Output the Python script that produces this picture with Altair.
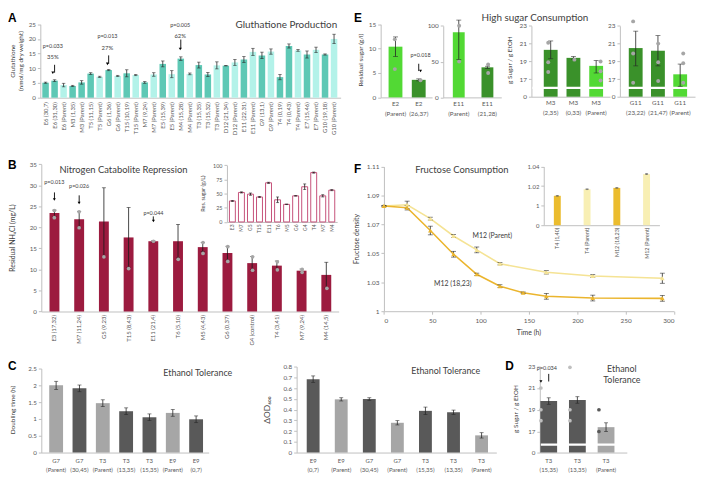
import altair as alt
import pandas as pd

# ---------------- data ----------------
# A: Glutathione production
a_labels = ["E6 (30,7)", "E6 (31,30)", "E6 (Parent)", "M3 (1,35)", "M3 (Parent)", "T5 (11,15)", "T5 (Parent)",
            "G6 (1,36)", "G6 (Parent)", "T15 (10,19)", "T15 (Parent)", "M7 (9,24)", "M7 (Parent)", "E5 (15,39)",
            "E5 (Parent)", "M4 (15,28)", "M4 (Parent)", "T3 (15,35)", "T3 (15,32)", "T3 (Parent)", "D12 (21,34)",
            "D12 (Parent)", "E11 (22,31)", "E11 (Parent)", "G9 (13,1)", "G9 (Parent)", "T4 (0,19)", "T4 (0,43)",
            "T4 (Parent)", "E7 (15,46)", "E7 (Parent)", "G10 (19,18)", "G10 (Parent)"]
a_values = [5.1, 5.8, 4.3, 4.0, 5.2, 8.2, 7.1, 9.4, 7.4, 8.3, 7.7, 5.2, 7.9, 11.5, 8.0, 13.3, 8.1, 11.1, 7.9,
            11.0, 10.9, 12.0, 13.0, 15.6, 14.4, 15.7, 7.0, 17.6, 16.1, 14.7, 16.3, 14.7, 20.0]
a_err = [0.2, 0.3, 0.6, 0.2, 0.6, 0.3, 0.2, 0.2, 0.2, 1.2, 0.2, 0.3, 0.6, 1.0, 1.2, 0.6, 0.3, 1.0, 0.7, 1.2, 0.1,
         1.0, 1.0, 1.2, 1.1, 0.9, 0.9, 0.7, 0.3, 1.2, 0.9, 0.2, 1.6]
a_kind = ["m", "m", "p", "m", "m", "m", "p", "m", "p", "m", "p", "m", "p", "m", "p", "m", "p", "m", "m", "p", "m",
          "p", "m", "p", "m", "p", "m", "m", "p", "m", "p", "m", "p"]
a_ann_lab = ["E6 (31,30)", "G6 (1,36)", "M4 (15,28)"]
a_ann_p = ["p=0.033", "p=0.013", "p=0.005"]
a_ann_pct = ["35%", "27%", "62%"]
a_ann_py = [17.7, 20.9, 24.7]
a_ann_pcty = [13.8, 16.8, 21.1]
a_arrow_top = [11.2, 14.4, 19.8]
a_arrow_tip = [8.5, 11.5, 16.6]

# B: Nitrogen catabolite repression
b_labels = ["E3 (17,32)", "M7 (11,24)", "G5 (9,23)", "T15 (8,43)", "E11 (21,4)", "T6 (5,10)", "M5 (4,43)",
            "G6 (0,37)", "G4 (control)", "T4 (3,41)", "M7 (9,24)", "M4 (14,5)"]
b_values = [23.4, 21.9, 21.4, 17.6, 16.7, 16.7, 15.3, 13.9, 11.5, 10.9, 9.7, 8.7]
b_lo = [22.6, 19.9, 13.1, 10.5, 16.5, 12.7, 14.2, 12.2, 9.9, 9.9, 9.2, 5.6]
b_hi = [24.1, 23.8, 29.4, 24.7, 16.9, 20.7, 16.4, 15.5, 13.1, 12.0, 10.1, 11.7]
b_dot_lab = ["E3 (17,32)", "E3 (17,32)", "M7 (11,24)", "M7 (11,24)", "G5 (9,23)", "T15 (8,43)", "E11 (21,4)",
             "T6 (5,10)", "M5 (4,43)", "M5 (4,43)", "G6 (0,37)", "G6 (0,37)", "G4 (control)", "G4 (control)",
             "T4 (3,41)", "T4 (3,41)", "M7 (9,24)", "M7 (9,24)", "M4 (14,5)"]
b_dot_val = [24.0, 22.3, 23.7, 19.9, 13.0, 10.2, 16.7, 12.4, 16.4, 13.8, 15.4, 11.9, 13.0, 9.8, 11.8, 9.9,
             10.0, 9.3, 5.5]
b_ann_lab = ["E3 (17,32)", "M7 (11,24)", "E11 (21,4)"]
b_ann_p = ["p=0.013", "p=0.026", "p=0.044"]
b_ann_py = [30.7, 29.9, 23.4]
b_arrow_top = [28.3, 27.6, 22.6]
b_arrow_tip = [26.6, 25.8, 21.5]
# B inset: residual sugar
bi_values = [37, 52, 49, 44, 69, 39, 31, 46, 62, 87, 46, 56]
bi_err = [1.0, 1.0, 2.0, 1.0, 1.0, 5.0, 0.5, 0.5, 5.0, 1.0, 2.0, 1.0]

# C: ethanol tolerance
c1_labels = ["G7 (Parent)", "G7 (30,45)", "T3 (Parent)", "T3 (13,35)", "T3 (15,35)", "E9 (Parent)", "E9 (0,7)"]
c1_values = [2.0, 1.91, 1.47, 1.23, 1.05, 1.18, 0.99]
c1_err = [0.12, 0.1, 0.1, 0.1, 0.1, 0.1, 0.1]
c1_kind = ["p", "m", "p", "m", "m", "p", "m"]
c2_labels = ["E9 (0,7)", "E9 (Parent)", "G7 (30,45)", "G7 (Parent)", "T3 (15,35)", "T3 (13,35)", "T3 (Parent)"]
c2_values = [0.683, 0.495, 0.498, 0.277, 0.388, 0.375, 0.16]
c2_err = [0.03, 0.015, 0.012, 0.02, 0.035, 0.02, 0.025]
c2_kind = ["m", "p", "m", "p", "m", "m", "p"]

# D
d_labels = ["T3 (15,35)", "T3 (13,35)", "T3 (Parent)"]
d_values = [19.8, 19.9, 17.4]
d_err = [0.3, 0.3, 0.4]
d_kind = ["m", "m", "p"]
d_dot_lab = ["T3 (15,35)", "T3 (15,35)", "T3 (15,35)", "T3 (13,35)", "T3 (13,35)", "T3 (13,35)",
             "T3 (Parent)", "T3 (Parent)"]
d_dot_val = [21.0, 19.0, 18.0, 22.9, 19.0, 18.0, 19.0, 17.0]
d_dot_kind = ["l", "l", "l", "l", "l", "l", "d", "d"]

# E: high sugar consumption
e1_labels = ["E2 (Parent)", "E2 (26,37)"]
e1_values = [10.4, 3.6]
e1_lo = [8.4, 3.4]
e1_hi = [12.4, 3.8]
e1_dot_lab = ["E2 (Parent)", "E2 (Parent)", "E2 (26,37)"]
e1_dot_val = [11.9, 5.8, 3.5]
e2_labels = ["E11 (Parent)", "E11 (21,28)"]
e2_values = [91, 42]
e2_lo = [53, 40.5]
e2_hi = [108, 43.5]
e2_dot_lab = ["E11 (Parent)", "E11 (Parent)", "E11 (21,28)", "E11 (21,28)"]
e2_dot_val = [100, 50, 46, 34]
e3_labels = ["M3 (2,35)", "M3 (0,33)", "M3 (Parent)"]
e3_values = [20.3, 19.4, 18.5]
e3_lo = [19.3, 19.25, 17.7]
e3_hi = [21.3, 19.55, 19.1]
e3_dot_lab = ["M3 (2,35)", "M3 (2,35)", "M3 (2,35)", "M3 (0,33)", "M3 (Parent)", "M3 (Parent)", "M3 (Parent)"]
e3_dot_val = [21.1, 18.9, 17.8, 19.2, 19.0, 17.9, 16.85]
e4_labels = ["G11 (23,22)", "G11 (21,47)", "G11 (Parent)"]
e4_values = [20.5, 20.2, 17.55]
e4_lo = [18.5, 18.5, 16.2]
e4_hi = [22.4, 21.9, 18.7]
e4_dot_lab = ["G11 (23,22)", "G11 (23,22)", "G11 (23,22)", "G11 (21,47)", "G11 (21,47)", "G11 (21,47)",
              "G11 (Parent)", "G11 (Parent)", "G11 (Parent)"]
e4_dot_val = [23.5, 19.9, 16.6, 21.0, 18.9, 16.8, 19.9, 18.8, 16.6]
e_kind3 = ["m", "m", "p"]
e_kind2 = ["p", "m"]

# F: fructose consumption
f_t_par = [0, 24, 48, 72, 96, 120, 168, 216, 288]
f_par = [1.0827, 1.0836, 1.074, 1.062, 1.0524, 1.0428, 1.0369, 1.0344, 1.0328]
f_par_err = [0.0005, 0.0025, 0.001, 0.001, 0.002, 0.0008, 0.0012, 0.001, 0.0035]
f_t_mut = [0, 24, 48, 72, 96, 120, 144, 168, 216, 288]
f_mut = [1.0827, 1.0815, 1.0658, 1.0494, 1.0355, 1.0273, 1.0228, 1.0203, 1.0191, 1.0189]
f_mut_err = [0.0005, 0.0015, 0.003, 0.002, 0.0008, 0.001, 0.0005, 0.002, 0.002, 0.002]
fi_labels = ["T4 (1,40)", "T4 (Parent)", "M12 (18,23)", "M12 (Parent)"]
fi_values = [1.0101, 1.0168, 1.0182, 1.0323]
fi_err = [0.0004, 0.0004, 0.0004, 0.0005]
fi_kind = ["m", "p", "m", "p"]

# ---------------- layout helpers ----------------
W, H = 696, 470
OX, OY = 8, 8
FONT = "Lato"
AXC = "#bfbfbf"
LBC = "#595959"
TXT = "#404040"
ERR = "#262626"


def px(x):
    return x - OX


def py(y):
    return y - OY


def band(labels, r0, r1, c1, step, w):
    n = len(labels)
    L = r1 - r0
    pi = 1 - w / step
    po = max(0.0, (L / step - n + pi) / 2)
    st = L / (n - pi + 2 * po)
    bw = st * (1 - pi)
    free = L - st * (n - pi)
    al = (c1 - bw / 2 - r0) / free if free > 1e-6 else 0.5
    al = min(1.0, max(0.0, al))
    return alt.Scale(domain=labels, range=[px(r0), px(r1)], paddingInner=pi, paddingOuter=po, align=al)


def ysc(dom, rng):
    return alt.Scale(domain=dom, range=[py(v) for v in rng], nice=False, zero=False)


def yax(ax_x, values, fmt=None, expr=None, size=6.3):
    kw = dict(orient="left", offset=-px(ax_x), values=values, title=None, grid=False, domainColor=AXC,
              tickColor=AXC, tickSize=3, labelFontSize=size, labelPadding=2, labelColor=LBC)
    if fmt:
        kw["format"] = fmt
    if expr:
        kw["labelExpr"] = expr
    return alt.Axis(**kw)


def xax(ybot, size=6, angle=0, pad=3, expr=None, ticks=False, values=None, lh=None):
    kw = dict(orient="bottom", offset=py(ybot) - H, title=None, grid=False, domainColor=AXC, ticks=ticks,
              tickColor=AXC, tickSize=3, labelFontSize=size, labelPadding=pad, labelColor=LBC, labelAngle=angle)
    if angle:
        kw["labelAlign"] = "right"
        kw["labelBaseline"] = "middle"
    if expr:
        kw["labelExpr"] = expr
    if values is not None:
        kw["values"] = values
    if lh:
        kw["labelLineHeight"] = lh
    return alt.Axis(**kw)


def bar_layer(df, xs, ys, xaxis, yaxis, **mk):
    return alt.Chart(df).mark_bar(**mk).encode(
        x=alt.X("lab:N", scale=xs, axis=xaxis, sort=None),
        y=alt.Y("v:Q", scale=ys, axis=yaxis),
        y2=alt.Y2("base:Q"),
        color=alt.Color("col:N", scale=None),
    )


def err_layers(df, xs, ys, cap=4, color=ERR):
    r = alt.Chart(df).mark_rule(color=color, strokeWidth=0.8).encode(
        x=alt.X("lab:N", scale=xs, axis=None, sort=None),
        y=alt.Y("lo:Q", scale=ys, axis=None), y2="hi:Q")
    t1 = alt.Chart(df).mark_tick(color=color, size=cap, thickness=0.8, orient="horizontal").encode(
        x=alt.X("lab:N", scale=xs, axis=None, sort=None), y=alt.Y("lo:Q", scale=ys, axis=None))
    t2 = alt.Chart(df).mark_tick(color=color, size=cap, thickness=0.8, orient="horizontal").encode(
        x=alt.X("lab:N", scale=xs, axis=None, sort=None), y=alt.Y("hi:Q", scale=ys, axis=None))
    return [r, t1, t2]


def dot_layer(df, xs, ys, size=14, color="#a6a6a6", field=None):
    enc = dict(x=alt.X("lab:N", scale=xs, axis=None, sort=None), y=alt.Y("v:Q", scale=ys, axis=None))
    if field:
        enc["color"] = alt.Color(field + ":N", scale=None)
        return alt.Chart(df).mark_circle(size=size, opacity=1).encode(**enc)
    return alt.Chart(df).mark_circle(size=size, opacity=1, color=color).encode(**enc)


def ann_layers(df, xs, ys, size=5.5, dx=0):
    out = []
    out.append(alt.Chart(df).mark_text(fontSize=size, font=FONT, color=TXT, baseline="middle", dx=dx).encode(
        x=alt.X("lab:N", scale=xs, axis=None, sort=None), y=alt.Y("ty:Q", scale=ys, axis=None), text="t:N"))
    out.append(alt.Chart(df).mark_rule(color="#000000", strokeWidth=0.9).encode(
        x=alt.X("lab:N", scale=xs, axis=None, sort=None), y=alt.Y("a1:Q", scale=ys, axis=None), y2="a2:Q"))
    out.append(alt.Chart(df).mark_point(shape="triangle-down", filled=True, size=9, color="#000000",
                                        opacity=1).encode(
        x=alt.X("lab:N", scale=xs, axis=None, sort=None), y=alt.Y("a2:Q", scale=ys, axis=None)))
    return out


def label(txt, x, y, size=9, align="left", baseline="middle", angle=0, bold=False, font=FONT, color=TXT):
    mk = dict(align=align, baseline=baseline, fontSize=size, font=font, color=color)
    if angle:
        mk["angle"] = angle
    if bold:
        mk["fontWeight"] = "bold"
    return alt.Chart(pd.DataFrame({"t": [txt]})).mark_text(**mk).encode(
        x=alt.value(px(x)), y=alt.value(py(y)), text="t:N")


def brk(ys, x0, x1, v0, v1):
    return alt.Chart(pd.DataFrame({"a": [v0], "b": [v1]})).mark_rect(color="white").encode(
        x=alt.value(px(x0)), x2=alt.value(px(x1)),
        y=alt.Y("a:Q", scale=ys, axis=None), y2="b:Q")


layers = []

# ---------------- Panel A ----------------
A_DARK, A_LIGHT = "#5ec8b5", "#b3f2e9"
dfa = pd.DataFrame({"lab": a_labels, "v": a_values, "base": 0,
                    "lo": [v - e for v, e in zip(a_values, a_err)],
                    "hi": [v + e for v, e in zip(a_values, a_err)],
                    "col": [A_DARK if k == "m" else A_LIGHT for k in a_kind]})
xa = band(a_labels, 40.7, 344.5, 46.0, 9.12, 6.6)
ya = ysc([0, 25], [96, 21.7])
layers.append(bar_layer(dfa, xa, ya, xax(96, size=6, angle=270, pad=4),
                        yax(40.7, [0, 5, 10, 15, 20, 25], fmt="d")))
layers += err_layers(dfa, xa, ya, cap=3.5)
dfa_ann = pd.DataFrame({"lab": a_ann_lab, "t": a_ann_p, "ty": a_ann_py, "a1": a_arrow_top, "a2": a_arrow_tip})
dfa_ann2 = pd.DataFrame({"lab": a_ann_lab, "t": a_ann_pct, "ty": a_ann_pcty, "a1": a_arrow_top,
                         "a2": a_arrow_tip})
layers += ann_layers(dfa_ann, xa, ya, size=5.5)
layers.append(alt.Chart(dfa_ann2).mark_text(fontSize=6, font=FONT, color=TXT).encode(
    x=alt.X("lab:N", scale=xa, axis=None, sort=None), y=alt.Y("ty:Q", scale=ya, axis=None), text="t:N"))
layers.append(label("Gluthatione Production", 341, 23, size=10, align="right"))
layers.append(label("Glutathione", 13, 59, size=6.5, align="center", angle=270))
layers.append(label("(nmol/mg dry weight)", 21, 59, size=6.5, align="center", angle=270))
layers.append(label("A", 8, 10, size=12, bold=True, baseline="top", font="Liberation Sans", color="#000000"))

# ---------------- Panel B ----------------
B_COL = "#9c1b3f"
dfb = pd.DataFrame({"lab": b_labels, "v": b_values, "base": 0, "lo": b_lo, "hi": b_hi,
                    "col": [B_COL] * len(b_labels)})
xb = band(b_labels, 41.7, 342.5, 55.0, 25.0, 10.0)
yb = ysc([0, 35], [312.3, 163.3])
layers.append(bar_layer(dfb, xb, yb, xax(312.3, size=6, angle=270, pad=3),
                        yax(41.7, [0, 5, 10, 15, 20, 25, 30, 35], fmt="d")))
layers += err_layers(dfb, xb, yb, cap=4, color="#1a1a1a")
layers.append(dot_layer(pd.DataFrame({"lab": b_dot_lab, "v": b_dot_val}), xb, yb, size=14, color="#a6a6a6"))
layers += ann_layers(pd.DataFrame({"lab": b_ann_lab, "t": b_ann_p, "ty": b_ann_py, "a1": b_arrow_top,
                                   "a2": b_arrow_tip}), xb, yb, size=5.5)
layers.append(label("Nitrogen Catabolite Repression", 60, 169, size=9.5))
layers.append(label("Residual NH\u2084Cl (mg/L)", 13, 238, size=7, align="center", angle=270))
layers.append(label("B", 8, 159, size=12, bold=True, baseline="top", font="Liberation Sans", color="#000000"))

# B inset
dfbi = pd.DataFrame({"lab": b_labels, "v": bi_values, "base": 0,
                     "lo": [v - e for v, e in zip(bi_values, bi_err)],
                     "hi": [v + e for v, e in zip(bi_values, bi_err)],
                     "col": ["#ffffff"] * len(b_labels)})
xbi = band(b_labels, 229.5, 341.0, 235.0, 9.14, 6.0)
ybi = ysc([0, 100], [221.7, 164.3])
layers.append(bar_layer(dfbi, xbi, ybi,
                        xax(221.7, size=5, angle=270, pad=2, expr="split(datum.label, ' ')[0]"),
                        yax(229.5, [0, 25, 50, 75, 100], fmt="d", size=5.5),
                        stroke="#c5527a", strokeWidth=1))
layers += err_layers(dfbi, xbi, ybi, cap=3, color="#1a1a1a")
layers.append(label("Res. sugar (g/L)", 205, 193, size=5.5, align="center", angle=270))

# ---------------- Panel C ----------------
C_DARK, C_LIGHT = "#595959", "#a6a6a6"
dfc1 = pd.DataFrame({"lab": c1_labels, "v": c1_values, "base": 0,
                     "lo": [v - e for v, e in zip(c1_values, c1_err)],
                     "hi": [v + e for v, e in zip(c1_values, c1_err)],
                     "col": [C_DARK if k == "m" else C_LIGHT for k in c1_kind]})
xc1 = band(c1_labels, 41.7, 211.0, 56.7, 23.6, 14.0)
yc1 = ysc([0, 2.5], [455, 370])
layers.append(bar_layer(dfc1, xc1, yc1, xax(455, size=6, pad=5, expr="split(datum.label, ' ')", lh=9.5),
                        yax(41.7, [0, 0.5, 1, 1.5, 2, 2.5], fmt="~g")))
layers += err_layers(dfc1, xc1, yc1, cap=4)
layers.append(label("Ethanol Tolerance", 200, 375, size=9, align="center"))
layers.append(label("Doubling time (h)", 13, 412, size=6.5, align="center", angle=270))
layers.append(label("C", 8, 362, size=12, bold=True, baseline="top", font="Liberation Sans", color="#000000"))

dfc2 = pd.DataFrame({"lab": c2_labels, "v": c2_values, "base": 0,
                     "lo": [v - e for v, e in zip(c2_values, c2_err)],
                     "hi": [v + e for v, e in zip(c2_values, c2_err)],
                     "col": [C_DARK if k == "m" else C_LIGHT for k in c2_kind]})
xc2 = band(c2_labels, 300, 502.0, 316.7, 28.4, 13.0)
yc2 = ysc([0, 0.8], [455, 368])
layers.append(bar_layer(dfc2, xc2, yc2, xax(455, size=6, pad=5, expr="split(datum.label, ' ')", lh=9.5),
                        yax(300, [0, 0.1, 0.2, 0.3, 0.4, 0.5, 0.6, 0.7, 0.8], fmt="~g")))
layers += err_layers(dfc2, xc2, yc2, cap=4)
layers.append(label("Ethanol Tolerance", 416, 373, size=9))
layers.append(label("\u0394OD\u2086\u2080\u2080", 270, 412, size=8.5, align="center", angle=270))

# ---------------- Panel D ----------------
dfd = pd.DataFrame({"lab": d_labels, "v": d_values, "base": 0,
                    "lo": [v - e for v, e in zip(d_values, d_err)],
                    "hi": [v + e for v, e in zip(d_values, d_err)],
                    "col": [C_DARK if k == "m" else C_LIGHT for k in d_kind]})
xd = band(d_labels, 546, 634, 555, 29.0, 17.0)
yd = ysc([0, 15.5, 23], [455, 450.2, 367.7])
layers.append(bar_layer(dfd, xd, yd, xax(455, size=6, pad=5, expr="split(datum.label, ' ')", lh=9.5),
                        yax(546, [0, 17, 19, 21, 23], fmt="d")))
layers.append(brk(yd, 547, 633, 15.7, 15.9))
layers += err_layers(dfd, xd, yd, cap=4)
layers.append(dot_layer(pd.DataFrame({"lab": d_dot_lab, "v": d_dot_val,
                                      "c": ["#bfbfbf" if k == "l" else "#595959" for k in d_dot_kind]}),
                        xd, yd, size=14, field="c"))
layers += ann_layers(pd.DataFrame({"lab": ["T3 (15,35)"], "t": ["p=0.034"], "ty": [22.85], "a1": [22.3],
                                   "a2": [21.6]}), xd, yd, size=5.5, dx=6)
layers.append(label("Ethanol", 629, 370, size=9, align="center"))
layers.append(label("Tolerance", 629, 382, size=9, align="center"))
layers.append(label("g Sugar / g EtOH", 522, 411, size=6.5, align="center", angle=270))
layers.append(label("D", 511, 362, size=12, bold=True, baseline="top", font="Liberation Sans", color="#000000"))

# ---------------- Panel E ----------------
E_BRIGHT, E_DARK = "#52d934", "#3a912a"
E_DOT = "#a6a6a6"


def e_df(labels, values, lo, hi, kind):
    return pd.DataFrame({"lab": labels, "v": values, "base": 0, "lo": lo, "hi": hi,
                         "col": [E_DARK if k == "m" else E_BRIGHT for k in kind]})


E_LBL = "split(datum.label, ' ')"
dfe1 = e_df(e1_labels, e1_values, e1_lo, e1_hi, e_kind2)
xe1 = band(e1_labels, 385, 437, 400, 23.5, 14)
ye1 = ysc([0, 15], [95.7, 21.7])
layers.append(bar_layer(dfe1, xe1, ye1, xax(95.7, size=6.3, pad=3, expr=E_LBL, lh=10),
                        yax(385, [0, 5, 10, 15], fmt="d", size=6.5)))
layers += err_layers(dfe1, xe1, ye1, cap=5)
layers.append(dot_layer(pd.DataFrame({"lab": e1_dot_lab, "v": e1_dot_val}), xe1, ye1, size=16, color=E_DOT))
layers += ann_layers(pd.DataFrame({"lab": ["E2 (26,37)"], "t": ["p=0.018"], "ty": [8.6], "a1": [6.9],
                                   "a2": [5.4]}), xe1, ye1, size=5.5)
layers.append(label("Residual sugar (g/l)", 365, 58, size=6.5, align="center", angle=270))

dfe2 = e_df(e2_labels, e2_values, e2_lo, e2_hi, e_kind2)
xe2 = band(e2_labels, 448.3, 507, 464, 29, 12)
ye2 = ysc([0, 100], [95.7, 23.3])
layers.append(bar_layer(dfe2, xe2, ye2, xax(95.7, size=6.3, pad=3, expr=E_LBL, lh=10),
                        yax(448.3, [0, 50, 100], fmt="d", size=6.5)))
layers += err_layers(dfe2, xe2, ye2, cap=5)
layers.append(dot_layer(pd.DataFrame({"lab": e2_dot_lab, "v": e2_dot_val}), xe2, ye2, size=16, color=E_DOT))

dfe3 = e_df(e3_labels, e3_values, e3_lo, e3_hi, e_kind3)
xe3 = band(e3_labels, 537.5, 617, 557, 23, 14)
ye3 = ysc([0, 15.8, 23], [95, 88.1, 23.3])
layers.append(bar_layer(dfe3, xe3, ye3, xax(95, size=6.3, pad=3, expr=E_LBL, lh=10),
                        yax(537.5, [0, 17, 19, 21, 23], fmt="d", size=6.5)))
layers.append(brk(ye3, 538.5, 616, 15.9, 16.15))
layers += err_layers(dfe3, xe3, ye3, cap=5)
layers.append(dot_layer(pd.DataFrame({"lab": e3_dot_lab, "v": e3_dot_val}), xe3, ye3, size=16, color=E_DOT))
layers.append(label("g Sugar / g EtOH", 516, 58, size=6.5, align="center", angle=270))

dfe4 = e_df(e4_labels, e4_values, e4_lo, e4_hi, e_kind3)
xe4 = band(e4_labels, 627, 703, 643, 22.5, 14)
ye4 = ysc([0, 15.8, 23], [95, 88.1, 23.3])
layers.append(bar_layer(dfe4, xe4, ye4, xax(95, size=6.3, pad=3, expr=E_LBL, lh=10),
                        yax(627, [0, 17, 19, 21, 23], fmt="d", size=6.5)))
layers.append(brk(ye4, 628, 703, 15.9, 16.15))
layers += err_layers(dfe4, xe4, ye4, cap=5)
layers.append(dot_layer(pd.DataFrame({"lab": e4_dot_lab, "v": e4_dot_val}), xe4, ye4, size=16, color=E_DOT))
layers.append(label("High sugar Consumption", 541, 10, size=10, align="center", baseline="top"))
layers.append(label("E", 358, 10, size=12, bold=True, baseline="top", font="Liberation Sans", color="#000000"))

# ---------------- Panel F ----------------
F_PAR, F_MUT = "#f5e394", "#ebb52e"
dff = pd.DataFrame({
    "t": f_t_par + f_t_mut,
    "v": f_par + f_mut,
    "lo": [v - e for v, e in zip(f_par, f_par_err)] + [v - e for v, e in zip(f_mut, f_mut_err)],
    "hi": [v + e for v, e in zip(f_par, f_par_err)] + [v + e for v, e in zip(f_mut, f_mut_err)],
    "s": ["M12 (Parent)"] * len(f_par) + ["M12 (18,23)"] * len(f_mut),
    "col": [F_PAR] * len(f_par) + [F_MUT] * len(f_mut),
})
xf = alt.Scale(domain=[0, 300], range=[px(388.3), px(681.7)], nice=False, zero=False)
yf = ysc([1.01, 1.11], [312, 165.7])
layers.append(alt.Chart(dff).mark_line(strokeWidth=1.6).encode(
    x=alt.X("t:Q", scale=xf, axis=xax(312, size=6.5, pad=3, ticks=True, values=[0, 50, 100, 150, 200, 250, 300])),
    y=alt.Y("v:Q", scale=yf, axis=yax(388.3, [1.01, 1.03, 1.05, 1.07, 1.09, 1.11], size=6.5,
                                      expr="datum.value < 1.02 ? '1' : format(datum.value, '.2f')")),
    color=alt.Color("col:N", scale=None), detail="s:N"))
layers.append(alt.Chart(dff).mark_rule(color=ERR, strokeWidth=0.8).encode(
    x=alt.X("t:Q", scale=xf, axis=None), y=alt.Y("lo:Q", scale=yf, axis=None), y2="hi:Q"))
for fld in ["lo", "hi"]:
    layers.append(alt.Chart(dff).mark_tick(color=ERR, size=5, thickness=0.8, orient="horizontal").encode(
        x=alt.X("t:Q", scale=xf, axis=None), y=alt.Y(fld + ":Q", scale=yf, axis=None)))
layers.append(alt.Chart(dff).mark_point(shape="triangle-up", filled=True, size=22, opacity=1).encode(
    x=alt.X("t:Q", scale=xf, axis=None), y=alt.Y("v:Q", scale=yf, axis=None),
    color=alt.Color("col:N", scale=None)))
layers.append(label("Fructose Consumption", 420, 169, size=9.5))
layers.append(label("M12 (Parent)", 498, 236, size=7, align="center"))
layers.append(label("M12 (18,23)", 458, 284, size=7, align="center"))
layers.append(label("Fructose density", 361, 239, size=7, align="center", angle=270))
layers.append(label("Time (h)", 535, 334, size=7, align="center"))
layers.append(label("F", 358, 163, size=12, bold=True, baseline="top", font="Liberation Sans", color="#000000"))

# F inset
dffi = pd.DataFrame({"lab": fi_labels, "v": fi_values, "base": 0.98,
                     "lo": [v - e for v, e in zip(fi_values, fi_err)],
                     "hi": [v + e for v, e in zip(fi_values, fi_err)],
                     "col": ["#ebbc2e" if k == "m" else "#f8efb4" for k in fi_kind]})
xfi = band(fi_labels, 550, 667, 563.7, 30.1, 7)
yfi = ysc([0.98, 1.04], [225, 165.7])
layers.append(bar_layer(dffi, xfi, yfi, xax(225, size=5.5, angle=270, pad=2),
                        yax(550, [0.98, 1.0, 1.02, 1.04], size=6,
                            expr="datum.value < 0.99 ? '0' : datum.value < 1.01 ? '1' : format(datum.value, '.2f')")))
layers += err_layers(dffi, xfi, yfi, cap=3, color="#595959")

chart = alt.layer(*layers).resolve_scale(x="independent", y="independent").properties(
    width=W, height=H, padding=0, autosize=alt.AutoSizeParams(type="none")
).configure_view(stroke=None).configure_axis(labelFont=FONT, titleFont=FONT)

chart.save("out.html", embed_options={"renderer": "svg", "actions": False})
